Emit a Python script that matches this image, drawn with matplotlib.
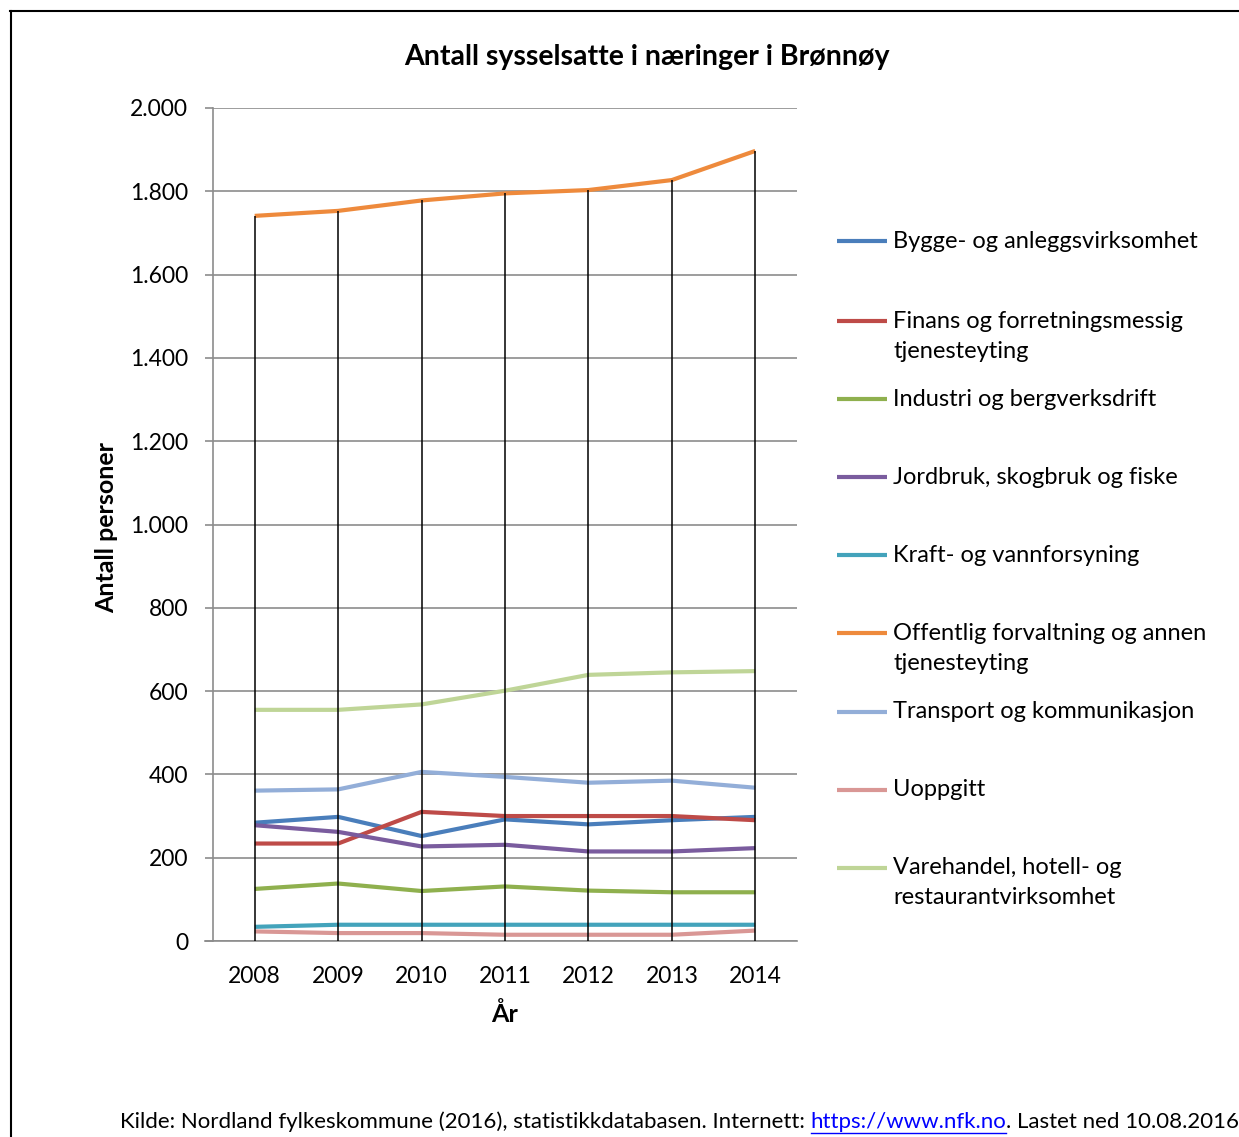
import numpy as np
import matplotlib
matplotlib.use("Agg")
import matplotlib.pyplot as plt
from matplotlib.lines import Line2D
from matplotlib.ticker import FixedLocator

plt.rcParams['font.family'] = ['Lato', 'DejaVu Sans']

years = [2008, 2009, 2010, 2011, 2012, 2013, 2014]

bygge = [284, 298, 252, 292, 280, 290, 298]
finans = [234, 234, 310, 300, 300, 300, 290]
industri = [125, 138, 120, 131, 121, 117, 117]
jordbruk = [278, 262, 227, 231, 215, 215, 223]
kraft = [34, 39, 39, 39, 39, 39, 39]
offentlig = [1741, 1753, 1778, 1795, 1803, 1827, 1897]
transport = [361, 364, 406, 394, 380, 385, 368]
uoppgitt = [23, 19, 19, 15, 15, 15, 25]
varehandel = [555, 555, 568, 601, 639, 645, 648]

labels = [
    "Bygge- og anleggsvirksomhet",
    "Finans og forretningsmessig\ntjenesteyting",
    "Industri og bergverksdrift",
    "Jordbruk, skogbruk og fiske",
    "Kraft- og vannforsyning",
    "Offentlig forvaltning og annen\ntjenesteyting",
    "Transport og kommunikasjon",
    "Uoppgitt",
    "Varehandel, hotell- og\nrestaurantvirksomhet",
]
series = [bygge, finans, industri, jordbruk, kraft, offentlig, transport, uoppgitt, varehandel]
colors = ['#4a7ebb', '#be4b48', '#8fb04e', '#7a5c9e', '#43a3bb', '#ee8a3c',
          '#93aed8', '#d99795', '#bfd597']

y_ticks = [0, 200, 400, 600, 800, 1000, 1200, 1400, 1600, 1800, 2000]
y_labels = ['0', '200', '400', '600', '800', '1.000', '1.200', '1.400', '1.600', '1.800', '2.000']

W, H = 1239, 1137
def fx(px):
    return px / W
def fy(py):
    return 1 - py / H

fig = plt.figure(figsize=(W / 100, H / 100), dpi=100)
ax = fig.add_axes([fx(213), fy(941), fx(797) - fx(213), fy(108) - fy(941)])

for vals, c in zip(series, colors):
    ax.plot(years, vals, color=c, lw=3.0, solid_capstyle='butt', zorder=3)

# drop lines
tops = np.max(np.array(series), axis=0)
ax.vlines(years, 0, tops, color='black', lw=1.1, zorder=4)

ax.set_xlim(2007.5, 2014.5)
ax.set_ylim(0, 2000)
ax.set_xticks(years)
ax.set_xticklabels([str(y) for y in years])
ax.yaxis.set_major_locator(FixedLocator(y_ticks))
ax.set_yticklabels(y_labels)
ax.grid(axis='y', color='#8c8c8c', lw=1.2, zorder=0)
ax.set_axisbelow(True)

for s in ['top', 'right']:
    ax.spines[s].set_visible(False)
ax.spines['left'].set_color('#8c8c8c')
ax.spines['left'].set_linewidth(1.2)
ax.spines['bottom'].set_color('#8c8c8c')
ax.spines['bottom'].set_linewidth(1.2)
ax.spines['bottom'].set_bounds(2007.5 - 8 / 83.3, 2014.5)
ax.tick_params(axis='y', length=6, width=1.2, color='#8c8c8c', pad=12, labelsize=16.5)
ax.tick_params(axis='x', length=0, pad=18, labelsize=16.5)

ax.set_ylabel("Antall personer", fontsize=18, fontweight='bold', va='center')
ax.yaxis.set_label_coords(-0.1815, 0.496)
ax.set_xlabel("År", fontsize=18, fontweight='bold', va='center')
ax.xaxis.set_label_coords(0.5, -0.0876)

fig.text(fx(647), fy(57), "Antall sysselsatte i næringer i Brønnøy", ha='center', va='center',
         fontsize=20.5, fontweight='bold')

# legend
leg_y = [241, 321, 399, 477, 555, 633, 712, 790, 868]
for lab, c, yy in zip(labels, colors, leg_y):
    fig.add_artist(Line2D([fx(837), fx(887)], [fy(yy), fy(yy)], color=c, lw=3.0,
                          solid_capstyle='butt'))
    for i, part in enumerate(lab.split('\n')):
        fig.text(fx(893), fy(yy + i * 30), part, ha='left', va='center', fontsize=17)

# frame
fig.add_artist(Line2D([fx(10.5), fx(10.5)], [fy(11), 0], color='black', lw=1.5))
fig.add_artist(Line2D([fx(10), 1], [fy(11), fy(11)], color='black', lw=1.5))

# source line
r = fig.canvas.get_renderer()
t1 = fig.text(fx(120), fy(1122), "Kilde: Nordland fylkeskommune (2016), statistikkdatabasen. Internett: ",
              ha='left', va='center', fontsize=16)
bb = t1.get_window_extent(r)
t2 = fig.text(bb.x1 / W, fy(1122), "https://www.nfk.no", ha='left', va='center',
              fontsize=16, color='#0000ff')
bb2 = t2.get_window_extent(r)
fig.add_artist(Line2D([bb2.x0 / W, bb2.x1 / W], [fy(1133), fy(1133)], color='#0000ff', lw=1.0))
fig.text(bb2.x1 / W, fy(1122), ". Lastet ned 10.08.2016", ha='left', va='center', fontsize=16)

fig.savefig("out.png", dpi=100)
